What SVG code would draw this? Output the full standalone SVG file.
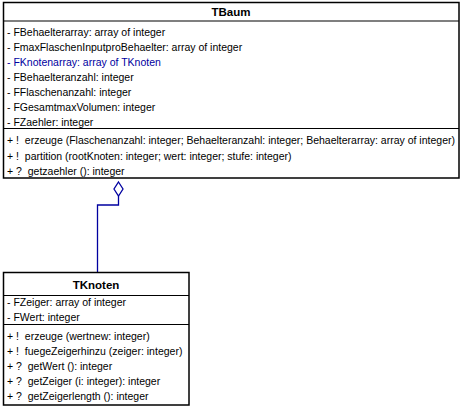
<svg xmlns="http://www.w3.org/2000/svg" width="463" height="410" viewBox="0 0 463 410">
<style>
.box{fill:#fff;stroke:#000;stroke-width:1.5}
.sep{stroke:#000;stroke-width:1.2}
text{font-family:"Liberation Sans",Arial,sans-serif;font-size:10.5px;fill:#000;white-space:pre}
.title{font-weight:bold;font-size:11.5px;text-anchor:middle}
.blue{fill:#0000A0}
.conn{fill:none;stroke:#0000A0;stroke-width:1.3}
</style>
<rect width="463" height="410" fill="#fff"/>
<g id="TBaum">
<rect class="box" x="3.5" y="2.5" width="455.5" height="175.5"/>
<line class="sep" x1="3.5" y1="21" x2="459" y2="21"/>
<line class="sep" x1="3.5" y1="128.5" x2="459" y2="128.5"/>
<text class="title" x="231" y="16">TBaum</text>
<text x="7" y="36">- FBehaelterarray: array of integer</text>
<text x="7" y="51">- FmaxFlaschenInputproBehaelter: array of integer</text>
<text x="7" y="66" class="blue">- FKnotenarray: array of TKnoten</text>
<text x="7" y="81">- FBehaelteranzahl: integer</text>
<text x="7" y="96">- FFlaschenanzahl: integer</text>
<text x="7" y="111">- FGesamtmaxVolumen: integer</text>
<text x="7" y="126">- FZaehler: integer</text>
<text x="7" y="144" xml:space="preserve">+ !  erzeuge (Flaschenanzahl: integer; Behaelteranzahl: integer; Behaelterarray: array of integer)</text>
<text x="7" y="159.5" xml:space="preserve">+ !  partition (rootKnoten: integer; wert: integer; stufe: integer)</text>
<text x="7" y="174.5" xml:space="preserve">+ ?  getzaehler (): integer</text>
</g>
<g id="connectors">
<path class="conn" d="M118.5 182 L123 189 L118.5 196 L114 189 Z"/>
<polyline class="conn" points="118.5,196 118.5,205 97.5,205 97.5,272"/>
</g>
<g id="TKnoten">
<rect class="box" x="3.5" y="272.5" width="185.5" height="132.5"/>
<line class="sep" x1="3.5" y1="295.5" x2="189" y2="295.5"/>
<line class="sep" x1="3.5" y1="324.5" x2="189" y2="324.5"/>
<text class="title" x="96" y="289">TKnoten</text>
<text x="7" y="306">- FZeiger: array of integer</text>
<text x="7" y="321">- FWert: integer</text>
<text x="7" y="339.5" xml:space="preserve">+ !  erzeuge (wertnew: integer)</text>
<text x="7" y="355" xml:space="preserve">+ !  fuegeZeigerhinzu (zeiger: integer)</text>
<text x="7" y="370" xml:space="preserve">+ ?  getWert (): integer</text>
<text x="7" y="385" xml:space="preserve">+ ?  getZeiger (i: integer): integer</text>
<text x="7" y="400" xml:space="preserve">+ ?  getZeigerlength (): integer</text>
</g>
</svg>
